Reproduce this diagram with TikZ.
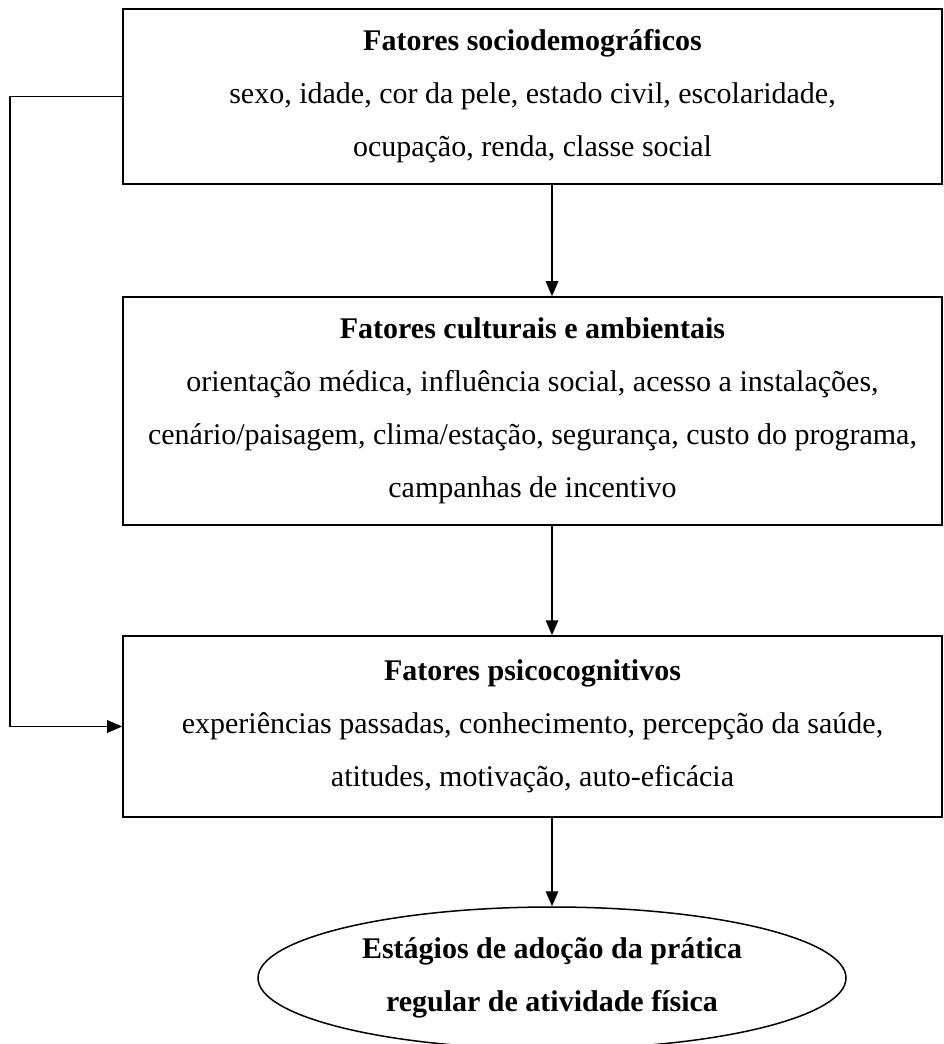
\documentclass[tikz,border=0pt]{standalone}
\usepackage{fontspec}
\setmainfont{Liberation Serif}
\usetikzlibrary{shapes.geometric,arrows.meta}
\begin{document}
\begin{tikzpicture}[x=0.4pt,y=-0.4pt,
  every node/.style={font=\fontsize{12}{21.2}\selectfont},
  factorbox/.style={draw,line width=0.6pt,rectangle,align=center,inner sep=0pt,minimum width=327.6pt},
  stagesell/.style={draw,line width=0.6pt,ellipse,align=center,inner sep=0pt,minimum width=235.2pt,minimum height=56.8pt,font=\fontsize{12}{21.2}\selectfont\bfseries},
  conn/.style={line width=0.6pt,-{Triangle[length=6pt,width=5pt]}}]
\useasboundingbox (0,0) rectangle (943,1044);
\node[factorbox,minimum height=70pt] (b1) at (532.5,96.5)
  {\textbf{Fatores sociodemográficos}\\
   sexo, idade, cor da pele, estado civil, escolaridade,\\
   ocupação, renda, classe social};
\node[factorbox,minimum height=91.2pt] (b2) at (532.5,411)
  {\textbf{Fatores culturais e ambientais}\\
   orientação médica, influência social, acesso a instalações,\\
   cenário/paisagem, clima/estação, segurança, custo do programa,\\
   campanhas de incentivo};
\node[factorbox,minimum height=72.4pt] (b3) at (532.5,726.5)
  {\textbf{Fatores psicocognitivos}\\
   experiências passadas, conhecimento, percepção da saúde,\\
   atitudes, motivação, auto-eficácia};
\node[stagesell] (el) at (552,978)
  {Estágios de adoção da prática\\ regular de atividade física};
\coordinate (L) at (10,95);
\draw[conn] (b1.south -| el.north) -- (b2.north -| el.north);
\draw[conn] (b2.south -| el.north) -- (b3.north -| el.north);
\draw[conn] (b3.south -| el.north) -- (el.north);
\draw[conn] (b1.west) -- (b1.west -| L) |- (b3.west);
\end{tikzpicture}
\end{document}
